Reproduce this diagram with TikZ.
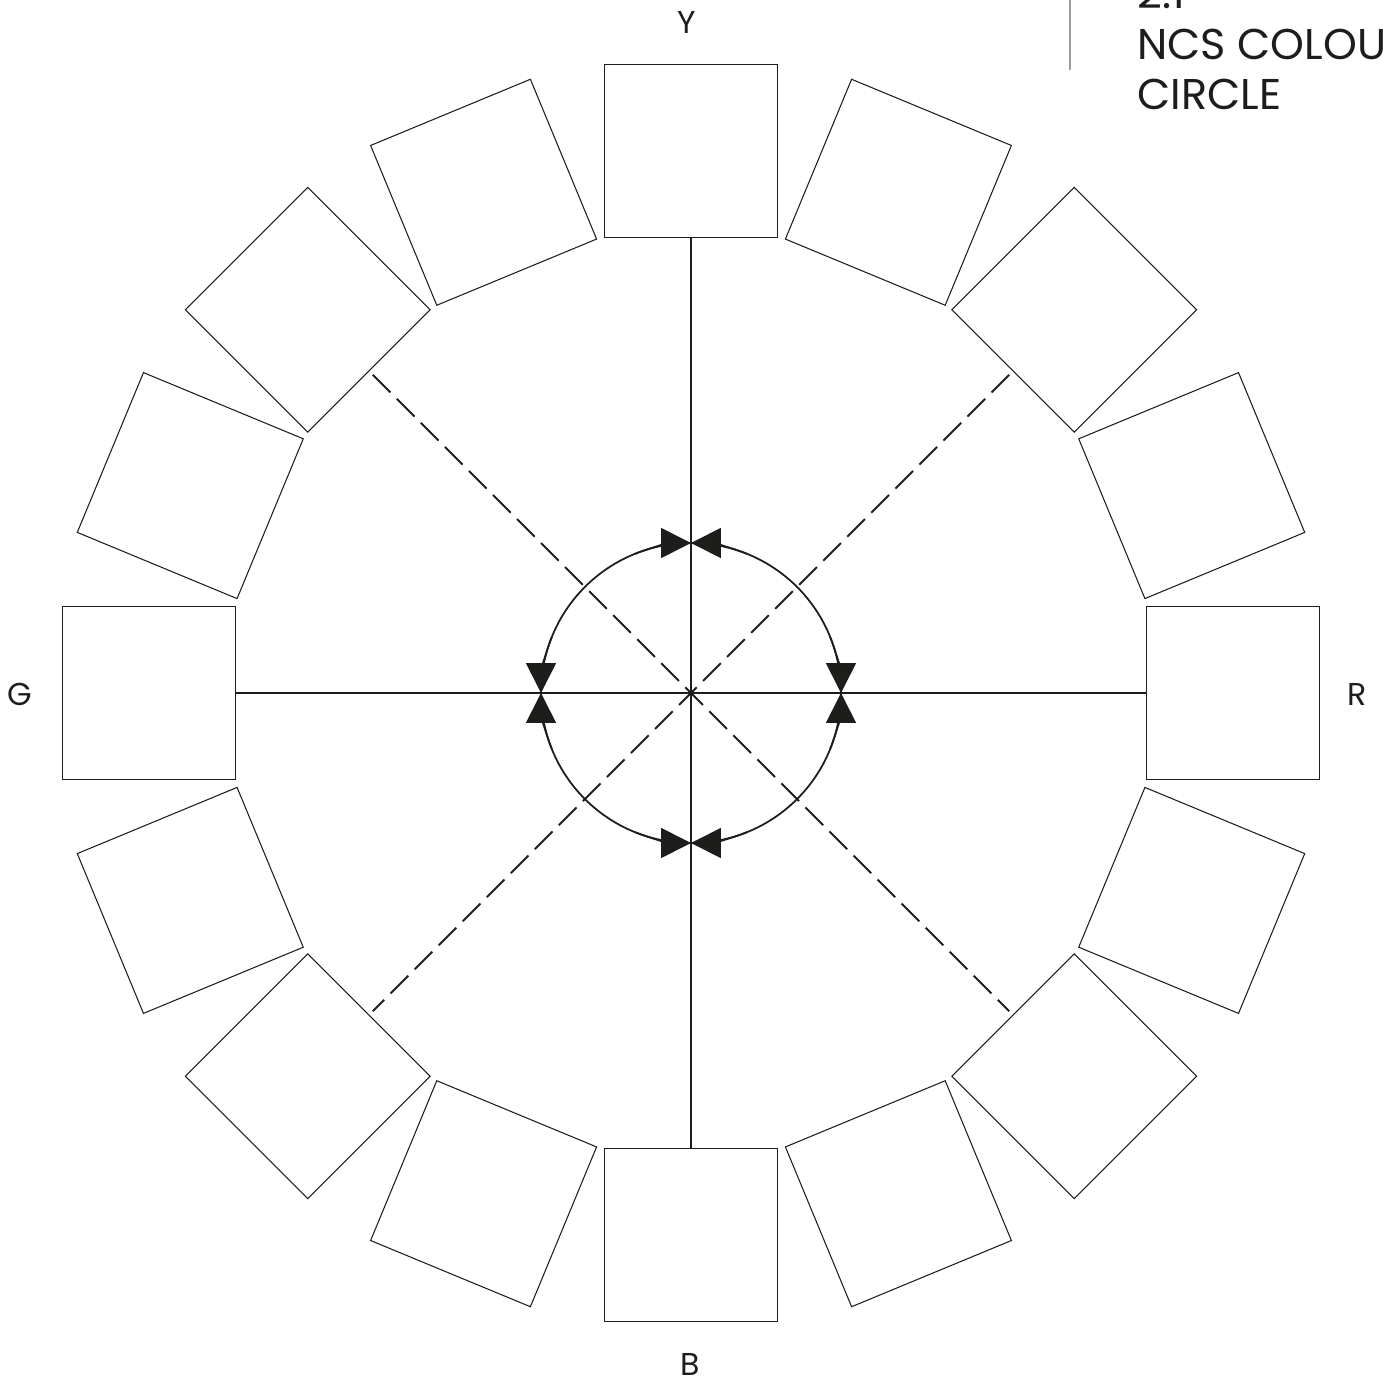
\documentclass[tikz,border=0pt]{standalone}
\usepackage{fontspec}
\setmainfont{Poppins}
\usetikzlibrary{arrows.meta}
\definecolor{ink}{HTML}{1D1D1B}
\definecolor{rule}{HTML}{9D9D9C}
\begin{document}
\begin{tikzpicture}[x=0.02cm,y=0.02cm,
  swatch/.style={draw=ink, line width=0.6pt, minimum size=3.46cm, inner sep=0pt},
  axis/.style={draw=ink, line width=1.1pt},
  diag/.style={draw=ink, line width=1.1pt, dash pattern=on 0.5cm off 0.18cm},
  ring/.style={draw=ink, line width=1pt},
  tip/.style={ring, -{Triangle[length=0.6cm,width=0.6cm]}},
  hue/.style={font=\fontsize{18}{20}\selectfont, text=ink}]
\useasboundingbox (-691,-687) rectangle (692,693);
% the 16 hue swatches, Y at the top
\foreach \i in {0,...,15}
  \node[swatch, rotate=-\i*22.5] (s\i) at ({90-\i*22.5}:542) {};
% main axes Y-B and G-R
\draw[axis] (s0.south) -- (s8.south);
\draw[axis] (s12.south) -- (s4.south);
% diagonals
\coordinate (d1) at (45:450);
\coordinate (d2) at (135:450);
\coordinate (d3) at (225:450);
\coordinate (d4) at (315:450);
\draw[diag] (d2) -- (d4);
\draw[diag] (d1) -- (d3);
% inner circle, arrows meet on the axes
\coordinate (O) at (0,0);
\draw[ring] (O) circle[radius=150];
\foreach \a in {0,90,180,270} {
  \draw[tip] (\a-22:150) arc[start angle=\a-22, end angle=\a, radius=150];
  \draw[tip] (\a+22:150) arc[start angle=\a+22, end angle=\a, radius=150];
}
% hue labels
\node[hue] (lY) at (-4,671) {Y};
\node[hue] (lR) at (666,-1) {R};
\node[hue] (lB) at (-1,-671) {B};
\node[hue] (lG) at (-671,-1) {G};
% heading
\coordinate (t1) at (379,693);
\coordinate (t2) at (379,623);
\draw[rule, line width=1pt] (t1) -- (t2);
\node[anchor=base west, align=left, inner sep=0pt, text=ink,
  font=\fontsize{24.5}{29}\selectfont] (title) at (446,583) {2.1\\NCS COLOUR\\CIRCLE};
\end{tikzpicture}
\end{document}
